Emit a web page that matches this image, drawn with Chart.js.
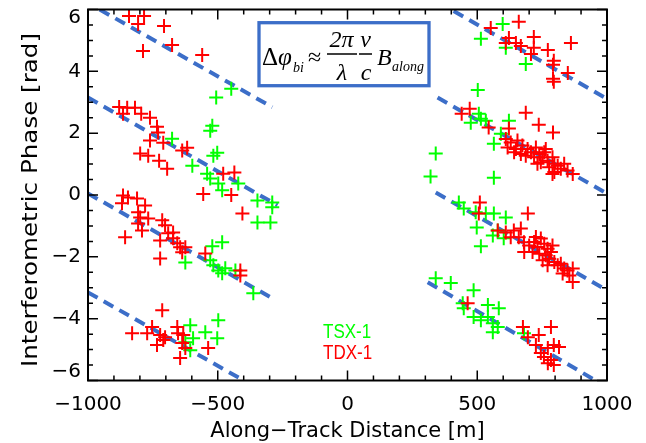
<!DOCTYPE html>
<html>
<head>
<meta charset="utf-8">
<script src="https://cdn.jsdelivr.net/npm/chart.js@4.4.1/dist/chart.umd.min.js"></script>
<style>
  html, body { margin: 0; padding: 0; background: #fff; }
  #wrap { width: 646px; height: 443px; }
</style>
</head>
<body>
<div id="wrap"><canvas id="myChart" width="646" height="443"></canvas></div>
<script>
// TSX-1 (green) along-track distance [m] and phase [rad]
const tsxDistance = [
  -448, -506, -521, -529, -676, -502, -517, -598, -541, -529, -498, -421, -483, -347, -290, -290, -347, -297,
  -625, -521, -483, -529, -517, -498, -471, -483, -432, -363,
  -606, -595, -606, -548, -498, -502, -625,
  598, 514, 610, 687, 502,
  506, 514, 475, 533, 622, 591, 564, 340, 320, 564,
  429, 448, 494, 533, 564, 610, 498, 514, 560, 579, 602,
  340, 398, 486, 444, 448, 541, 583, 486, 514, 541, 560, 579, 560, 680
];
const tsxPhase = [
  3.44, 3.15, 2.24, 2.08, 1.82, 1.37, 1.27, 0.95, 0.69, 0.53, 0.37, 0.37, 0.15, -0.18, -0.24, -0.40, -0.89, -0.89,
  -2.18, -1.66, -1.53, -2.11, -2.27, -2.44, -2.37, -2.53, -2.44, -3.18,
  -4.21, -4.63, -5.02, -4.44, -4.05, -4.63, -4.76,
  5.53, 5.05, 4.76, 4.24, 3.40,
  2.63, 2.47, 2.34, 2.40, 2.40, 1.98, 1.66, 1.34, 0.60, 0.56,
  -0.24, -0.44, -0.56, -0.60, -0.60, -0.73, -1.05, -1.66, -1.31, -1.15, -1.40,
  -2.69, -2.85, -3.08, -3.50, -3.66, -3.56, -3.66, -3.95, -4.05, -3.95, -4.15, -4.27, -4.44, -4.47
];

// TDX-1 (red)
const tdxDistance = [
  -842, -784, -807, -707, -676, -788, -560,
  -880, -849, -819, -865, -795, -761, -734, -730, -761, -710, -637, -618, -799, -768, -726, -695, -479, -436, -556, -448, -405,
  -865, -846, -811, -869, -780, -807, -799, -768, -807, -792, -857, -714, -703, -722, -691, -672, -672, -656, -645, -625, -637, -722, -548, -413, -413,
  -830, -772, -753, -714, -722, -703, -710, -734, -656, -653, -633, -637, -625, -645, -537,
  660, 552, 622, 649, 610, 668, 718, 718, 707, 772, 795, 792, 861, 849, 792, 795,
  440, 471, 544, 687, 737, 792, 622,
  610, 629, 655, 617, 649, 674, 694, 668, 707, 726, 739, 719, 752, 764, 771, 745, 790, 797, 777, 810, 822, 797, 848, 868, 790, 758, 687, 642, 732, 835,
  510, 506, 695, 579, 610, 641, 668, 629, 660, 680,
  700, 719, 732, 745, 758, 771, 713, 739, 764, 784, 752, 777, 797, 810, 822, 835, 848, 868, 855, 868, 790, 726, 681, 771, 829,
  463, 676, 784, 695, 737, 726, 772, 795, 815, 757, 784, 772, 795, 745
];
const tdxPhase = [
  5.79, 5.79, 5.53, 5.47, 4.85, 4.66, 4.53,
  2.85, 2.82, 2.82, 2.63, 2.63, 2.50, 2.21, 2.02, 1.76, 1.69, 1.44, 1.53, 1.34, 1.27, 1.11, 0.85, 0.69, 0.73, 0.03, 0.00, -0.60,
  -0.02, -0.08, -0.11, -0.27, -0.34, -0.56, -0.73, -0.76, -0.92, -1.15, -1.37, -0.82, -0.98, -1.47, -1.24, -1.21, -1.40, -1.56, -1.69, -1.69, -1.85, -2.05, -1.89, -2.44, -2.60,
  -4.47, -4.47, -4.27, -3.73, -4.53, -4.60, -4.69, -4.85, -4.27, -4.47, -4.53, -4.79, -4.95, -5.27, -4.95,
  5.60, 5.40, 5.08, 4.92, 4.92, 4.82, 5.11, 4.76, 4.56, 4.69, 4.34, 4.21, 4.92, 3.95, 3.76, 3.66,
  2.63, 2.79, 2.18, 2.66, 2.27, 2.02, 2.15,
  1.81, 1.70, 1.76, 1.54, 1.49, 1.60, 1.49, 1.33, 1.38, 1.54, 1.33, 1.22, 1.22, 1.49, 1.11, 1.06, 1.22, 1.01, 0.90, 0.95, 0.85, 0.74, 0.79, 0.68, 0.68, 1.38, 1.27, 1.38, 1.01, 1.01,
  -0.24, -0.60, -0.60, -1.15, -1.21, -1.15, -1.08, -1.37, -1.37, -1.53,
  -1.63, -1.52, -1.68, -1.41, -1.58, -1.74, -1.84, -1.90, -1.95, -1.84, -2.11, -2.06, -2.17, -2.27, -2.22, -2.38, -2.44, -2.38, -2.60, -2.81, -1.63, -1.36, -1.84, -2.27, -2.54,
  -3.50, -4.27, -4.27, -4.60, -4.53, -4.85, -4.95, -4.85, -4.92, -5.24, -5.34, -5.44, -5.50, -5.11
];

// dashed fringe lines, start and end points
const fringeX0 = [-955, -1000, -1000, -1000, 409, 347, 340, 309];
const fringeY0 = [6.0, 3.15, 0.05, -3.15, 5.95, 3.15, 0.08, -2.82];
const fringeX1 = [-290, -270, -290, -400, 1000, 1000, 1000, 946];
const fringeY1 = [2.84, -0.33, -3.34, -6.0, 3.11, 0.05, -3.08, -5.95];

// axis ticks
const xTicks = [-1000, -500, 0, 500, 1000];
const yTicks = [-6, -4, -2, 0, 2, 4, 6];

const GREEN = "#00ff00";
const RED = "#ff0000";
const BLUE = "#3c6ec8";

function pts(xs, ys) {
    return xs.map((v, i) => ({ x: v, y: ys[i] }));
}

const fringeSets = fringeX0.map((x0, i) => ({
    type: "line",
    data: [{ x: x0, y: fringeY0[i] }, { x: fringeX1[i], y: fringeY1[i] }],
    borderColor: BLUE,
    borderWidth: 4,
    borderDash: [11, 7],
    borderCapStyle: "butt",
    pointRadius: 0,
    fill: false,
    order: 3,
}));

const minus = (v) => String(v).replace("-", "\u2212");

const framePlugin = {
    id: "frame",
    afterDraw(chart) {
        const { ctx, chartArea: a } = chart;
        const xs = chart.scales.x, ys = chart.scales.y;
        ctx.save();
        ctx.strokeStyle = "#000";
        ctx.lineWidth = 1.5;
        ctx.beginPath();
        // ticks pointing inwards on all four sides
        for (let v = -1000; v <= 1000; v += 100) {
            const px = xs.getPixelForValue(v);
            const len = v % 500 === 0 ? 10 : 5;
            ctx.moveTo(px, a.bottom); ctx.lineTo(px, a.bottom - len);
            ctx.moveTo(px, a.top); ctx.lineTo(px, a.top + len);
        }
        for (let i = -12; i <= 12; i++) {
            const py = ys.getPixelForValue(i / 2);
            const len = i % 4 === 0 ? 10 : 5;
            ctx.moveTo(a.left, py); ctx.lineTo(a.left + len, py);
            ctx.moveTo(a.right, py); ctx.lineTo(a.right - len, py);
        }
        ctx.stroke();
        ctx.lineWidth = 2;
        ctx.strokeRect(a.left, a.top, a.right - a.left, a.bottom - a.top);

        // tick labels
        ctx.fillStyle = "#000";
        ctx.font = '20px "DejaVu Sans"';
        ctx.textAlign = "center";
        ctx.textBaseline = "middle";
        xTicks.forEach((v) => ctx.fillText(minus(v), xs.getPixelForValue(v), a.bottom + 24));
        ctx.textAlign = "right";
        yTicks.forEach((v, i) => {
            let py = ys.getPixelForValue(v);
            if (i === 0) py -= 8.5;
            if (i === yTicks.length - 1) py += 8;
            ctx.fillText(minus(v), a.left - 7, py);
        });

        // axis titles
        ctx.textAlign = "center";
        ctx.textBaseline = "alphabetic";
        ctx.font = '21px "DejaVu Sans"';
        ctx.fillText("Along\u2212Track Distance [m]", (a.left + a.right) / 2, 437);
        ctx.save();
        ctx.translate(37, 200);
        ctx.rotate(-Math.PI / 2);
        ctx.scale(1.17, 1);
        ctx.font = '21px "DejaVu Sans"';
        ctx.fillText("Interferometric Phase [rad]", 0, 0);
        ctx.restore();

        // formula box
        ctx.fillStyle = "#fff";
        ctx.fillRect(259, 22.7, 170, 63);
        ctx.strokeStyle = BLUE;
        ctx.lineWidth = 3.3;
        ctx.strokeRect(259, 22.7, 170, 63);
        ctx.fillStyle = "#000";
        ctx.textAlign = "left";
        ctx.font = '25px "Liberation Serif"';
        ctx.fillText("\u0394", 262, 65);
        ctx.font = 'italic 25px "Liberation Serif"';
        ctx.fillText("\u03c6", 278, 65);
        ctx.font = 'italic 14px "Liberation Serif"';
        ctx.fillText("bi", 293, 72);
        ctx.font = '24px "Liberation Serif"';
        ctx.fillText("\u2248", 308, 65);
        ctx.textAlign = "center";
        ctx.font = 'italic 24px "Liberation Serif"';
        ctx.fillText("2\u03c0", 341.5, 47);
        ctx.fillText("\u03bb", 342, 80);
        ctx.fillText("v", 365.5, 47);
        ctx.fillText("c", 366, 80);
        ctx.strokeStyle = "#000";
        ctx.lineWidth = 1.5;
        ctx.beginPath();
        ctx.moveTo(327, 54); ctx.lineTo(357, 54);
        ctx.moveTo(359, 54); ctx.lineTo(372, 54);
        ctx.stroke();
        ctx.textAlign = "left";
        ctx.fillText("B", 377, 65);
        ctx.font = 'italic 14px "Liberation Serif"';
        ctx.fillText("along", 392, 71);

        // series names
        ctx.font = '20px "Liberation Sans"';
        ctx.textBaseline = "middle";
        ctx.save();
        ctx.translate(323, 0);
        ctx.scale(0.85, 1);
        ctx.fillStyle = GREEN;
        ctx.fillText("TSX-1", 0, 332);
        ctx.fillStyle = RED;
        ctx.fillText("TDX-1", 0, 353);
        ctx.restore();
        ctx.restore();
    },
};

document.addEventListener("DOMContentLoaded", function () {
    const ctx = document.getElementById("myChart");

    new Chart(ctx, {
        type: "scatter",
        data: {
            datasets: [
                {
                    label: "TSX-1",
                    data: pts(tsxDistance, tsxPhase),
                    pointStyle: "cross",
                    pointRadius: 7,
                    borderWidth: 2,
                    borderColor: GREEN,
                    backgroundColor: GREEN,
                    order: 2,
                },
                {
                    label: "TDX-1",
                    data: pts(tdxDistance, tdxPhase),
                    pointStyle: "cross",
                    pointRadius: 7,
                    borderWidth: 2,
                    borderColor: RED,
                    backgroundColor: RED,
                    order: 1,
                },
                ...fringeSets,
            ],
        },
        options: {
            responsive: false,
            animation: false,
            events: [],
            layout: { padding: { top: 9.5, right: 39, bottom: 0, left: 0 } },
            plugins: {
                legend: { display: false },
                tooltip: { enabled: false },
            },
            scales: {
                x: {
                    type: "linear",
                    min: -1000,
                    max: 1000,
                    grid: { display: false },
                    border: { display: false },
                    ticks: { display: false, stepSize: 500 },
                    afterFit: (s) => { s.height = 62.5; },
                },
                y: {
                    type: "linear",
                    min: -6,
                    max: 6,
                    grid: { display: false },
                    border: { display: false },
                    ticks: { display: false, stepSize: 2 },
                    afterFit: (s) => { s.width = 88; },
                },
            },
        },
        plugins: [framePlugin],
    });
});
</script>
</body>
</html>
